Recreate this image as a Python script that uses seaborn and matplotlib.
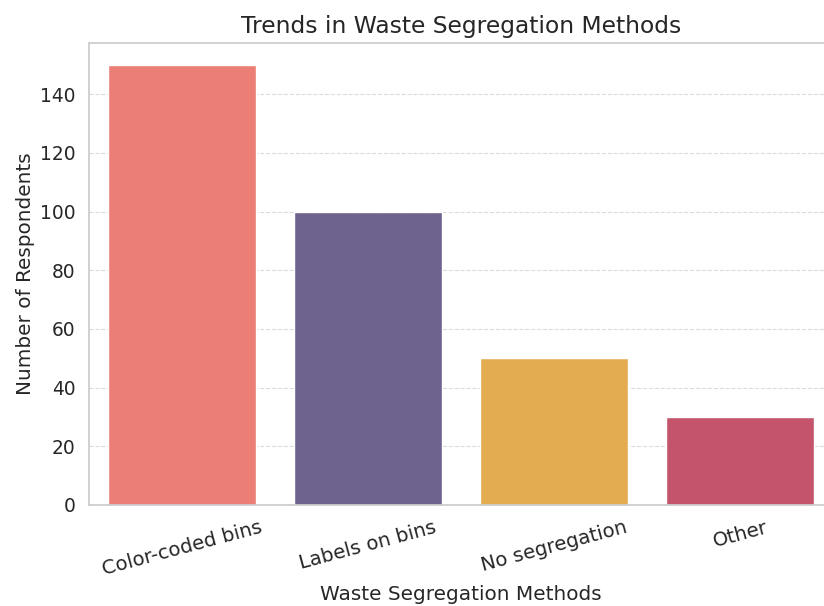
import matplotlib
matplotlib.use("Agg")
import matplotlib.pyplot as plt
import seaborn as sns
import pandas as pd

methods = ["Color-coded bins", "Labels on bins", "No segregation", "Other"]
respondents = [150, 100, 50, 30]
colors = ["#FF6F61", "#6B5B95", "#FBB238", "#D64161"]

sns.set_theme(style="whitegrid")
plt.rcParams['font.family'] = ['DejaVu Sans']

df = pd.DataFrame({"method": methods, "count": respondents})

fig = plt.figure(figsize=(8.24, 6.06), dpi=100)
ax = fig.add_axes([89/824, 101/606, (833-89)/824, (505-43)/606])
sns.barplot(data=df, x="method", y="count", hue="method", palette=colors,
            legend=False, ax=ax)
ax.set_ylim(0, 157.5)
ax.set_title("Trends in Waste Segregation Methods", fontsize=16.8, pad=7)
ax.set_xlabel("Waste Segregation Methods", fontsize=14.4)
ax.set_ylabel("Number of Respondents", fontsize=14.4)
ax.tick_params(axis='x', labelsize=14.2)
ax.tick_params(axis='y', labelsize=13.4)
plt.setp(ax.get_xticklabels(), rotation=15)
ax.xaxis.grid(False)
ax.yaxis.grid(True, linestyle='--', linewidth=0.8, alpha=0.7)
fig.savefig("out.png", dpi=100)
